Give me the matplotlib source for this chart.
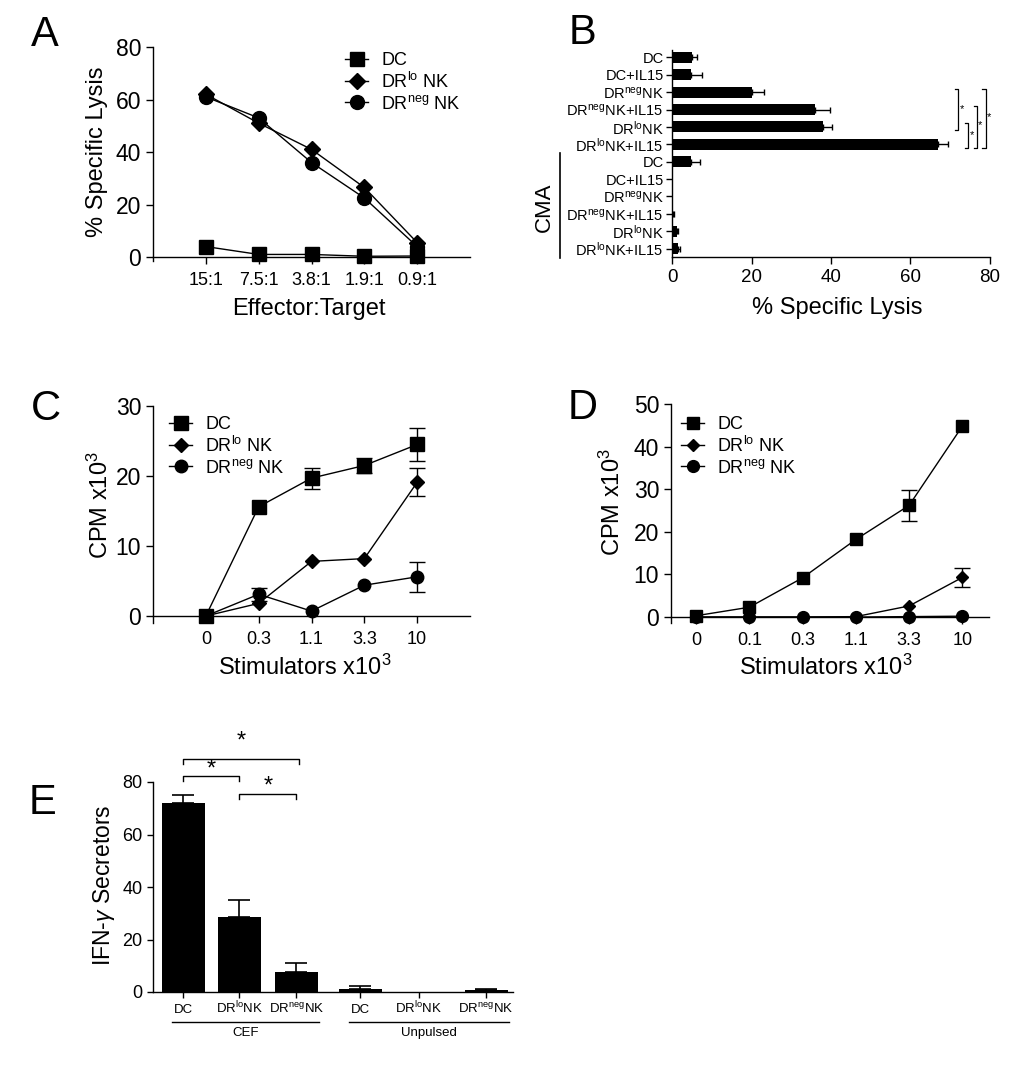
import numpy as np
import matplotlib.pyplot as plt
from matplotlib.lines import Line2D

plt.rcParams['font.family'] = ['Liberation Sans', 'DejaVu Sans']
plt.rcParams['mathtext.fontset'] = 'custom'
plt.rcParams['mathtext.rm'] = 'Liberation Sans'
plt.rcParams['mathtext.it'] = 'Liberation Sans:italic'
plt.rcParams['mathtext.default'] = 'regular'
plt.rcParams['axes.linewidth'] = 1.0

# ---- datos ----
# A: lisis especifica
ratios = ['15:1', '7.5:1', '3.8:1', '1.9:1', '0.9:1']
lysis_dc = [4.0, 1.0, 1.0, 0.3, 0.4]
lysis_drlo = [62, 51, 41, 26.5, 5.5]
lysis_drneg = [61, 53, 36, 22.5, 4.0]

# B: barras horizontales
b_labels = ['DC', 'DC+IL15', r'DR$^{neg}$NK', r'DR$^{neg}$NK+IL15',
            r'DR$^{lo}$NK', r'DR$^{lo}$NK+IL15'] * 2
b_vals = [5.0, 4.7, 20, 36, 38, 67, 4.7, 0, 0, 0.3, 1.3, 1.5]
b_err = [1.3, 2.8, 3.2, 3.7, 2.2, 2.5, 2.3, 0, 0, 0.1, 0.2, 0.5]

# C: proliferacion
stim_c = ['0', '0.3', '1.1', '3.3', '10']
cpm_c_dc = [0, 15.6, 19.7, 21.5, 24.5]
cpm_c_dc_err = [0, 0, 1.5, 1.1, 2.4]
cpm_c_drlo = [0, 1.8, 7.8, 8.2, 19.1]
cpm_c_drlo_err = [0, 0, 0, 0, 2.0]
cpm_c_drneg = [0, 3.1, 0.7, 4.4, 5.6]
cpm_c_drneg_err = [0, 0.9, 0, 0, 2.1]

# D: proliferacion
stim_d = ['0', '0.1', '0.3', '1.1', '3.3', '10']
cpm_d_dc = [0.3, 2.3, 9.2, 18.2, 26.2, 44.8]
cpm_d_dc_err = [0, 0, 0, 0, 3.6, 0]
cpm_d_drlo = [0, 0, 0, 0.1, 2.6, 9.3]
cpm_d_drlo_err = [0, 0, 0, 0, 0, 2.3]
cpm_d_drneg = [0, 0, 0, 0, 0.1, 0.2]
cpm_d_drneg_err = [0, 0, 0, 0, 0, 0]

# E: secretores IFN-gamma
e_labels = ['DC', r'DR$^{lo}$NK', r'DR$^{neg}$NK'] * 2
e_vals = [72, 28.4, 7.6, 1.1, 0, 0.6]
e_err = [3.2, 6.7, 3.4, 1.1, 0, 0.5]
e_groups = ['CEF', 'Unpulsed']

series_names = ['DC', r'DR$^{lo}$ NK', r'DR$^{neg}$ NK']
series_markers = ['s', 'D', 'o']

W, H = 1029, 1073
fig = plt.figure(figsize=(W / 100, H / 100), dpi=100)


def px_axes(l, t, r, b):
    return fig.add_axes([l / W, 1 - b / H, (r - l) / W, (b - t) / H])


def ftext(x, y, s, **kw):
    fig.text(x / W, 1 - y / H, s, **kw)


def style(ax):
    ax.spines['top'].set_visible(False)
    ax.spines['right'].set_visible(False)
    ax.tick_params(direction='out', length=5, width=1, color='k')


def legend(ax, x, y, sizes):
    handles = [Line2D([], [], color='k', lw=1, marker=m, ms=s)
               for m, s in zip(series_markers, sizes)]
    ax.legend(handles, series_names, loc='upper left',
              bbox_to_anchor=(x / W, 1 - y / H),
              bbox_transform=fig.transFigure, frameon=False, fontsize=13,
              handlelength=1.3, handletextpad=0.7, labelspacing=0.15,
              borderpad=0, borderaxespad=0, numpoints=1)


def series(ax, x, y, err, marker, ms):
    x = np.asarray(x)
    y = np.asarray(y)
    err = np.asarray(err)
    m = err > 0
    if m.any():
        ax.errorbar(x[m], y[m], yerr=err[m], fmt='none', ecolor='k',
                    elinewidth=1, capsize=6, capthick=1, clip_on=False)
    ax.plot(x, y, 'k-', marker=marker, ms=ms, lw=1, clip_on=False, zorder=3)


# ---- A ----
ax = px_axes(153, 47, 470, 261)
style(ax)
xa = np.arange(1, len(ratios) + 1)
ax.plot(xa, lysis_dc, 'k-', marker='s', ms=9.5, lw=1, clip_on=False)
ax.plot(xa, lysis_drlo, 'k-', marker='D', ms=8, lw=1, clip_on=False)
ax.plot(xa, lysis_drneg, 'k-', marker='o', ms=10, lw=1, clip_on=False)
ax.set_xlim(0, 6)
ax.set_ylim(-1.5, 80)
ax.spines['bottom'].set_position(('data', 0))
ax.set_xticks(xa, ratios)
ax.set_yticks([0, 20, 40, 60, 80])
ax.tick_params(axis='x', labelsize=13, pad=6)
ax.tick_params(axis='y', labelsize=16.5)
legend(ax, 345, 52, [9.5, 8, 10])
ftext(309, 309, 'Effector:Target', ha='center', va='center', fontsize=17)
ftext(97, 152, '% Specific Lysis', ha='center', va='center', rotation=90, fontsize=17)

# ---- B ----
ax = px_axes(672, 50.4, 990, 257)
style(ax)
rows = np.arange(len(b_labels))
ax.barh(rows, b_vals, height=0.63, color='k')
bv, be = np.asarray(b_vals), np.asarray(b_err)
mb = be > 0
ax.errorbar(bv[mb], rows[mb], xerr=[np.zeros(mb.sum()), be[mb]], fmt='none',
            ecolor='k', elinewidth=1, capsize=2.5, capthick=1)
ax.set_ylim(11.48, -0.4)
ax.set_xlim(0, 80)
ax.set_yticks(rows, b_labels)
ax.set_xticks([0, 20, 40, 60, 80])
ax.tick_params(axis='y', labelsize=10.5, length=4, pad=2)
ax.tick_params(axis='x', labelsize=13.5)
# corchetes de significancia
for xb, r0, r1, ys in [(72.0, 2, 4, 3.0), (74.5, 4, 5, 4.45), (76.7, 3, 5, 3.9), (78.9, 2, 5, 3.45)]:
    ax.plot([xb - 0.8, xb, xb, xb - 0.8], [r0 - 0.2, r0 - 0.2, r1 + 0.2, r1 + 0.2],
            color='k', lw=0.9, clip_on=False)
    ax.text(xb + 0.9, ys, '*', fontsize=8, ha='center', va='center')
ftext(837, 308, '% Specific Lysis', ha='center', va='center', fontsize=17)
ftext(544, 207, 'CMA', ha='center', va='center', rotation=90, fontsize=16)
fig.add_artist(Line2D([560 / W, 560 / W], [1 - 153 / H, 1 - 258 / H], color='k', lw=1.2))

# ---- C ----
ax = px_axes(153, 406, 470, 623)
style(ax)
xc = np.arange(1, len(stim_c) + 1)
series(ax, xc, cpm_c_dc, cpm_c_dc_err, 's', 9.5)
series(ax, xc, cpm_c_drlo, cpm_c_drlo_err, 'D', 7)
series(ax, xc, cpm_c_drneg, cpm_c_drneg_err, 'o', 9)
ax.set_xlim(0, 6)
ax.set_ylim(-1, 30)
ax.spines['bottom'].set_position(('data', 0))
ax.set_xticks(xc, stim_c)
ax.set_yticks([0, 10, 20, 30])
ax.tick_params(axis='x', labelsize=13, pad=6)
ax.tick_params(axis='y', labelsize=16.5)
legend(ax, 169, 416, [9.5, 7, 9])
ftext(305, 667, r'Stimulators x10$^3$', ha='center', va='center', fontsize=17)
ftext(100, 505, r'CPM x10$^3$', ha='center', va='center', rotation=90, fontsize=17)

# ---- D ----
ax = px_axes(671, 404, 989, 623)
style(ax)
xd = np.arange(len(stim_d))
series(ax, xd, cpm_d_dc, cpm_d_dc_err, 's', 9)
series(ax, xd, cpm_d_drlo, cpm_d_drlo_err, 'D', 6.5)
series(ax, xd, cpm_d_drneg, cpm_d_drneg_err, 'o', 8.5)
ax.set_xlim(-0.47, 5.5)
ax.set_ylim(-1.4, 50)
ax.spines['bottom'].set_position(('data', 0))
ax.set_xticks(xd, stim_d)
ax.set_yticks([0, 10, 20, 30, 40, 50])
ax.tick_params(axis='x', labelsize=13, pad=6)
ax.tick_params(axis='y', labelsize=16.5)
legend(ax, 681, 416, [9, 6.5, 8.5])
ftext(826, 667, r'Stimulators x10$^3$', ha='center', va='center', fontsize=17)
ftext(612, 502, r'CPM x10$^3$', ha='center', va='center', rotation=90, fontsize=17)

# ---- E ----
ax = px_axes(153, 782, 513, 992)
style(ax)
e_pos = np.array([0, 1, 2.02, 3.16, 4.21, 5.41])
ax.bar(e_pos, e_vals, width=0.77, color='k')
ev, ee = np.asarray(e_vals), np.asarray(e_err)
me = ee > 0
ax.errorbar(e_pos[me], ev[me], yerr=[np.zeros(me.sum()), ee[me]], fmt='none',
            ecolor='k', elinewidth=1.2, capsize=8, capthick=1.2)
ax.set_xlim(-0.54, 5.89)
ax.set_ylim(0, 80)
ax.set_xticks(e_pos, e_labels)
ax.set_yticks([0, 20, 40, 60, 80])
ax.tick_params(axis='x', labelsize=9.5, length=4, pad=11)
ax.tick_params(axis='y', labelsize=13, length=4)
for lbl in ax.get_xticklabels():
    lbl.set_va('baseline')
for i0, i1, yb, ys in [(0, 1, 82.3, 84.9), (1, 2, 75.6, 78.3), (0, 2, 88.9, 95.4)]:
    x0, x1 = e_pos[i0], e_pos[i1] + (0.04 if i1 - i0 == 2 else 0)
    ax.plot([x0, x0, x1, x1], [yb - 1.9, yb, yb, yb - 1.9], color='k', lw=1, clip_on=False)
    ax.text((x0 + x1) / 2, ys, '*', fontsize=17, ha='center', va='center', clip_on=False)
tr = ax.get_xaxis_transform()
for g, name in enumerate(e_groups):
    p = e_pos[3 * g:3 * g + 3]
    ax.plot([p[0] - 0.2, p[-1] + 0.4], [-0.143, -0.143], color='k', lw=1,
            transform=tr, clip_on=False)
    ax.text((p[0] + p[-1]) / 2 + 0.1, -0.195, name, transform=tr, ha='center',
            va='center', fontsize=9.5)
ftext(104, 885, r'IFN-$\mathit{\gamma}$ Secretors', ha='center', va='center',
      rotation=90, fontsize=16.5)

# letras de los paneles
for letter, x, y in [('A', 45, 35), ('B', 582, 33), ('C', 46, 409), ('D', 583, 408), ('E', 42, 803)]:
    ftext(x, y, letter, ha='center', va='center', fontsize=30)

plt.savefig('out.png', dpi=100)
